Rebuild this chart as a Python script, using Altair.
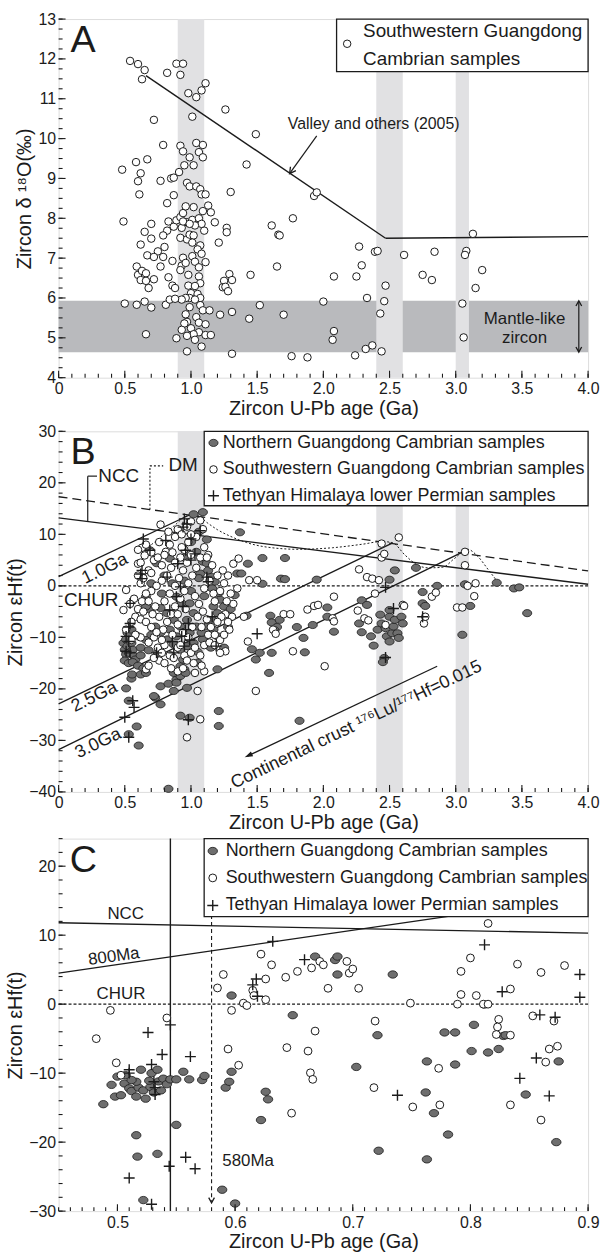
import altair as alt
import pandas as pd

FONT = "Liberation Sans, Arial, Helvetica, DejaVu Sans, sans-serif"
INK = "#1b1b1b"
GREY_FILL = "#6e6e6e"
BAND_LIGHT = "#e1e1e3"
BAND_DARK = "#b9babd"

W = 533
HA, HB, HC = 361, 363, 375

# ---------------- Panel A : zircon d18O vs U-Pb age (Southwestern Guangdong) ----------------
A_sw = [
    (0.54, 11.95), (0.60, 11.87), (0.65, 11.72), (0.63, 11.49), (0.89, 11.88), (0.94, 11.88),
    (0.92, 11.60), (0.82, 11.65), (0.98, 11.14), (1.04, 11.04), (1.08, 11.21), (1.11, 11.39),
    (1.01, 10.55), (0.72, 10.47), (1.26, 10.73), (1.49, 10.11), (1.42, 9.35), (0.79, 9.84),
    (0.48, 9.22), (0.585, 9.41), (0.62, 9.13), (0.60, 8.93), (0.67, 9.48), (0.61, 8.60),
    (0.77, 8.94), (0.85, 9.00), (0.87, 9.02), (0.92, 9.82), (0.94, 9.68), (0.95, 9.33),
    (0.91, 9.16), (1.04, 9.89), (1.06, 9.66), (0.99, 9.53), (1.09, 9.84), (1.09, 9.53),
    (1.02, 9.33), (0.97, 8.89), (0.99, 8.80), (1.04, 8.80), (1.07, 8.73), (1.08, 8.60),
    (1.11, 8.60), (1.30, 8.66), (0.82, 8.38), (0.87, 8.58), (1.93, 8.56), (1.95, 8.65),
    (1.77, 8.00), (0.49, 7.92), (0.70, 7.86), (0.83, 7.92), (0.82, 7.69), (0.87, 7.79),
    (0.79, 7.57), (0.89, 7.95), (0.92, 8.03), (0.94, 8.13), (0.96, 8.30), (1.02, 8.28),
    (0.93, 7.76), (0.97, 7.90), (0.94, 7.92), (1.01, 7.96), (1.06, 8.00), (1.09, 8.18),
    (1.13, 8.32), (1.15, 8.15), (1.18, 7.90), (1.10, 7.69), (1.08, 7.86), (1.03, 7.82),
    (0.99, 7.86), (0.92, 7.51), (0.97, 7.47), (0.99, 7.59), (1.02, 7.57), (1.07, 7.32),
    (1.05, 7.22), (1.01, 7.39), (1.27, 7.76), (1.27, 7.65), (1.61, 7.82), (1.66, 7.59),
    (1.67, 7.57), (1.21, 7.39), (0.65, 7.66), (0.62, 7.34), (0.70, 7.49), (0.75, 7.17),
    (0.80, 7.28), (0.79, 7.03), (0.67, 7.07), (0.72, 7.03), (0.77, 6.79), (0.86, 6.93),
    (0.94, 7.01), (0.93, 6.81), (0.96, 6.88), (0.92, 6.70), (1.01, 7.05), (1.03, 6.91),
    (1.06, 6.77), (1.08, 7.11), (1.11, 6.90), (1.06, 6.54), (1.07, 6.37), (0.59, 6.79),
    (0.60, 6.58), (0.63, 6.68), (0.66, 6.62), (0.62, 6.45), (0.66, 6.43), (0.68, 6.25),
    (0.72, 6.47), (0.83, 6.52), (0.86, 6.31), (0.88, 6.25), (0.98, 6.58), (0.98, 6.31),
    (1.03, 6.30), (1.00, 6.12), (1.05, 6.10), (0.99, 6.00), (1.07, 6.00), (0.96, 6.00),
    (0.93, 5.96), (1.25, 6.43), (1.24, 6.27), (1.26, 6.28), (1.28, 6.17), (1.29, 6.60),
    (1.31, 6.45), (1.45, 6.58), (1.65, 6.79), (2.08, 6.54), (2.25, 6.54), (2.27, 7.29),
    (2.29, 6.82), (2.39, 7.16), (2.41, 7.18), (2.61, 7.08), (2.47, 6.31), (2.75, 6.58),
    (2.82, 6.45), (2.84, 7.16), (3.13, 7.61), (3.08, 7.18), (3.07, 7.08), (3.20, 6.70),
    (3.15, 6.25), (0.50, 5.86), (0.59, 5.83), (0.65, 5.91), (0.70, 5.76), (0.81, 5.83),
    (0.84, 5.96), (0.88, 5.98), (0.96, 5.59), (0.99, 5.77), (1.03, 5.96), (1.07, 5.82),
    (1.09, 5.69), (1.14, 5.69), (0.97, 5.40), (0.95, 5.36), (1.00, 5.24), (0.93, 5.20),
    (1.04, 5.52), (1.06, 5.38), (1.11, 5.34), (1.06, 5.14), (1.02, 5.09), (0.97, 5.05),
    (0.89, 4.99), (1.03, 4.95), (1.08, 4.78), (1.11, 5.07), (1.15, 5.07), (0.66, 5.09),
    (0.97, 4.66), (1.22, 5.58), (1.31, 5.65), (1.31, 4.60), (1.44, 5.48), (1.52, 5.82),
    (1.70, 5.58), (1.76, 4.54), (1.88, 4.51), (2.00, 5.91), (2.08, 5.17), (2.07, 4.95),
    (2.33, 6.00), (2.24, 4.56), (2.32, 4.72), (2.37, 4.81), (2.43, 5.61), (2.44, 4.66),
    (2.46, 5.92), (3.05, 5.86), (3.06, 5.01),
]
A_valley = [(0.66, 11.58, 2.47, 7.50), (2.47, 7.50, 4.00, 7.54)]
A_vbands_under = [(0.90, 1.10)]
A_vbands_over = [(2.40, 2.60), (3.00, 3.10)]
A_mantle = [(4.64, 5.93)]
A_arrow = [(1.95, 10.07, 1.745, 9.12)]
A_arrowhead = [(1.745, 9.12, 36)]
A_mantle_arrow = [(3.93, 5.90, 3.93, 4.67)]
A_mantle_heads = [(3.93, 5.93, 180), (3.93, 4.64, 0)]
A_texts = [(2.38, 10.36, "Valley and others (2005)"), (3.52, 5.46, "Mantle-like"), (3.52, 5.00, "zircon")]
A_label = [(0.09, 12.45, "A")]
A_legend_box = [(2.10, 4.00, 11.68, 13.0)]
A_legend_sym = [(2.18, 12.38)]
A_legend_txt = [(2.30, 12.71, "Southwestern Guangdong"), (2.30, 12.00, "Cambrian samples")]

# ---------------- Panel B : zircon eHf(t) vs U-Pb age ----------------
B_ng = [
    (0.49, -11.1), (0.50, -12.4), (0.51, -10.4), (0.52, -11.7), (0.51, -13.3), (0.50, -14.5),
    (0.53, -13.0), (0.55, -11.1), (0.56, -12.4), (0.57, -13.6), (0.52, -9.1), (0.58, -14.3),
    (0.60, -9.8), (0.55, -8.5), (0.53, -15.0), (0.56, -14.8), (0.62, -12.0), (0.60, -15.5),
    (0.64, -16.0), (0.62, -13.5), (0.66, -10.5), (0.70, -9.5), (0.68, -12.5),
    (0.51, -19.9), (0.53, -22.3), (0.55, -18.0), (0.59, -27.3), (0.605, -31.0), (0.53, -28.8),
    (0.555, -17.2), (0.62, -17.2), (0.66, -16.9), (0.73, -21.7), (0.77, -23.0), (0.77, -19.5),
    (0.83, -19.0), (0.87, -20.4), (0.89, -18.2), (0.92, -17.5), (0.95, -16.2), (0.97, -19.8),
    (0.92, -25.2), (0.99, -25.6), (0.83, -39.4), (0.72, -21.4), (0.92, -15.6), (0.96, -16.9),
    (0.89, -18.8), (0.87, -16.9), (1.05, -14.9), (1.20, -16.2), (1.21, -24.3), (1.21, -27.2),
    (1.02, 13.9), (1.09, 14.3), (1.37, 10.4), (0.69, 6.9), (0.74, 4.4), (0.84, 5.3),
    (1.04, 6.6), (1.09, 4.7), (1.12, 4.4), (1.07, 2.4), (1.06, 1.5), (1.15, 1.8), (1.18, 0.8),
    (1.16, -0.5), (1.21, -1.4), (1.22, -2.7), (1.25, -4.0), (1.17, -4.0), (1.20, -5.3),
    (1.16, -6.6), (1.12, -7.9), (1.17, -8.5), (1.20, -9.8), (1.09, -10.4), (1.02, -11.1),
    (0.97, -11.7), (0.92, -12.4), (0.87, -11.4), (0.82, -10.4), (0.77, -9.1), (0.73, -7.9),
    (0.69, -4.6), (0.66, -4.0), (0.66, -2.1), (0.89, -2.1), (0.93, -3.4), (0.99, -3.4),
    (1.02, -5.3), (0.97, -6.6), (0.92, -7.9), (0.87, -6.6), (0.82, -5.3), (0.77, -4.3),
    (1.04, -7.9), (1.08, -9.1), (0.99, -9.1), (0.89, -9.8), (0.84, -8.5), (0.94, -14.3),
    (0.80, 2.0), (0.86, 0.5), (0.95, 1.0), (1.00, -1.0), (1.10, -2.0), (1.13, 3.0),
    (0.78, -1.5), (0.70, 0.5), (1.25, -12.0), (1.28, -8.0), (0.95, 5.5), (1.00, 8.5),
    (1.06, 10.5), (1.12, 9.0), (0.85, -13.5), (0.75, -13.0), (1.05, -12.8), (1.15, -12.0),
    (1.43, 4.3), (1.35, 2.4), (1.38, 2.4), (1.54, 5.4), (1.54, 0.4), (1.71, 5.4), (1.68, 1.4),
    (1.71, 1.3), (1.46, -12.3), (1.49, -14.3), (1.52, -13.0), (1.59, -16.9), (1.61, -13.0),
    (1.60, -5.8), (1.61, -7.1), (1.65, -8.0), (1.67, -6.6), (1.63, -8.6), (1.80, -8.0),
    (1.85, -10.1), (1.86, -12.9), (1.82, -26.2), (1.92, -7.6), (1.95, 1.2), (2.03, -4.2),
    (2.03, -6.0), (2.08, -8.9), (1.42, -5.8), (1.33, -1.8), (1.30, -4.5),
    (2.29, -2.8), (2.33, -3.7), (2.27, -7.3), (2.29, -9.0), (2.36, -9.8), (2.38, -11.6),
    (2.41, -8.5), (2.43, -5.6), (2.44, -7.3), (2.47, -8.2), (2.48, -9.8), (2.50, -10.8),
    (2.52, -9.2), (2.50, -4.7), (2.50, -6.0), (2.53, -7.9), (2.54, -6.6), (2.56, -9.2),
    (2.57, -10.1), (2.46, -14.0), (2.45, -14.8), (2.50, 1.2), (2.54, 3.0), (2.59, -6.0),
    (2.60, -7.3), (2.70, 3.5), (2.75, -1.2), (2.75, -3.4), (2.77, -3.9), (2.86, 0.0),
    (3.05, -9.5), (3.07, 0.3), (3.11, -3.9), (3.31, 0.6), (3.44, -0.5), (3.48, -0.3), (3.54, -5.3),
]
B_sw = [
    (0.77, 11.9), (0.81, 6.6), (0.63, 7.4), (0.65, 5.9), (0.60, 4.3), (0.62, 4.5), (0.51, -0.8),
    (0.49, -4.7), (0.51, -8.5), (0.66, -16.2), (0.90, -16.6), (0.97, -29.4), (1.05, -20.4),
    (1.07, -25.9), (1.03, -16.9), (1.10, -16.6), (1.26, -12.7), (1.29, -8.5), (1.31, -6.0),
    (1.32, 4.3), (1.36, 5.3), (0.60, 2.0), (0.62, 0.5), (0.64, 1.5), (0.68, 3.0), (0.70, 2.5),
    (0.72, 5.0), (0.75, 5.5), (0.78, 4.0), (0.80, 6.0), (0.84, 8.0), (0.88, 9.5), (0.90, 11.0),
    (0.93, 10.0), (0.97, 11.5), (1.00, 12.5), (1.07, 12.7), (1.04, 9.5), (0.98, 8.5), (0.95, 7.0),
    (0.92, 5.5), (0.88, 4.5), (0.85, 3.5), (0.82, 2.0), (0.78, 1.0), (0.74, 0.0), (0.70, -1.0),
    (0.66, -1.5), (0.63, -3.0), (0.60, -4.5), (0.58, -6.0), (0.55, -7.0), (0.62, -6.5),
    (0.66, -7.0), (0.70, -8.0), (0.72, -10.0), (0.68, -11.0), (0.62, -10.0), (0.58, -9.5),
    (0.75, -12.0), (0.78, -13.0), (0.80, -11.5), (0.76, -14.5), (0.80, -15.0), (0.84, -13.5),
    (0.87, -14.0), (0.90, -12.0), (0.92, -11.5), (0.95, -13.5), (0.97, -14.5), (1.00, -13.0),
    (1.03, -12.0), (1.07, -13.5), (1.10, -11.5), (1.14, -11.0), (1.18, -11.5), (1.22, -10.5),
    (1.25, -9.5), (1.28, -7.0), (1.26, -5.5), (1.23, -6.0), (1.20, -7.0), (1.18, -3.0),
    (1.22, -1.0), (1.25, 0.5), (1.28, 2.0), (1.30, -1.5), (1.32, -3.5), (1.27, -3.0),
    (1.24, 3.0), (1.20, 2.0), (1.16, 4.0), (1.13, 6.0), (1.10, 7.5), (1.07, 5.5), (1.04, 3.5),
    (1.01, 2.0), (0.98, 0.5), (0.95, -1.0), (0.92, -2.5), (0.88, -4.0), (0.85, -5.5),
    (0.82, -7.0), (0.79, -8.5), (0.76, -6.0), (0.73, -4.0), (0.80, -3.0), (0.84, -1.5),
    (0.88, 0.0), (0.91, 1.5), (0.94, 3.0), (0.97, 4.5), (1.00, 6.0), (1.03, -2.0), (1.06, -3.5),
    (1.09, -5.0), (1.12, -6.5), (1.15, -8.0), (1.05, -6.0), (1.01, -8.0), (0.98, -10.0),
    (0.94, -9.0), (0.90, -7.5), (0.86, -9.5), (1.08, -8.0), (1.13, -9.5), (1.10, -0.5),
    (1.14, 1.0), (1.17, -1.5), (1.02, -15.0), (1.08, -15.5), (0.94, -16.0), (0.85, -16.0),
    (0.72, -14.0), (0.68, -15.5), (0.55, -10.5), (0.57, -2.5), (0.54, -3.5), (0.60, 7.0),
    (0.66, 8.0), (0.70, 6.5), (0.76, 8.5), (0.83, 10.5), (1.00, 10.0), (1.09, 11.0),
    (1.12, 5.5), (0.96, -4.5), (0.90, -5.5), (0.78, -10.5), (0.74, -9.0), (0.71, -5.5),
    (0.68, -3.0), (0.64, -5.0), (0.86, 6.5), (0.93, 7.5), (1.18, -9.5), (1.22, -13.0),
    (1.44, 1.1), (1.50, 1.1), (1.43, -10.8), (1.49, -20.4), (1.62, -8.5), (1.64, -9.3),
    (1.70, -5.5), (1.75, -5.5), (1.77, -12.7), (1.88, -4.6), (1.93, -3.9), (1.96, -3.7),
    (2.01, -15.6), (2.08, -2.1), (2.07, -6.3), (2.08, -6.9), (2.27, 3.2), (2.33, 1.7),
    (2.37, 1.4), (2.42, 1.1), (2.26, -4.8), (2.31, -6.3), (2.34, -6.7), (2.39, -1.5),
    (2.44, 8.2), (2.44, 5.5), (2.46, 6.2), (2.57, 9.4), (2.47, -7.6), (2.60, -3.7),
    (2.61, -3.9), (2.76, -7.3), (2.77, -6.0), (2.82, -2.1), (2.85, -1.3), (3.01, -4.2),
    (3.05, -4.2), (3.07, 6.6), (3.07, 4.0), (3.09, 0.0), (3.15, 0.5), (3.14, -2.0),
    (1.35, -0.5), (1.40, -6.0),
]
B_th = [
    (0.64, 9.1), (0.69, 6.9), (0.81, 8.8), (0.63, 3.0), (0.63, 1.4), (0.62, 2.3), (0.54, -3.4),
    (0.54, -7.3), (0.53, -8.0), (0.51, -9.8), (0.53, -10.8), (0.51, -12.7), (0.54, -13.0),
    (0.56, -22.3), (0.57, -23.6), (0.50, -25.5), (0.53, -29.4), (0.74, -13.0), (0.82, 1.7),
    (0.84, -4.7), (0.86, -10.8), (0.87, -13.0), (0.95, 13.0), (0.94, 11.4), (0.96, 6.9),
    (1.00, 9.1), (0.97, 12.0), (0.90, 4.3), (0.92, -0.2), (0.89, -2.1), (0.94, -4.0),
    (0.98, -7.3), (0.96, -8.5), (0.99, -10.5), (0.93, -9.8), (0.95, -11.7), (1.00, 5.0),
    (1.03, 6.2), (1.07, 10.7), (1.12, 1.7), (1.13, 0.8), (1.16, -6.0), (1.19, -11.7),
    (0.98, -26.0), (1.50, -9.3), (2.47, -0.3), (2.47, -13.9), (2.53, -4.4), (2.75, -6.0),
]
B_ncc = [(0.0, 13.2, 4.0, 0.3)]
B_dm = [(0.0, 17.3, 4.0, 2.9)]
B_crust = [(0.0, 1.8, 1.0, 13.9), (0.0, -22.9, 2.52, 8.3), (0.0, -31.8, 3.07, 6.8)]
B_envelope = [
    (0.63, 6.6), (0.75, 9.0), (0.87, 11.6), (0.98, 13.6), (1.05, 13.6), (1.12, 12.3),
    (1.20, 10.9), (1.30, 9.6), (1.42, 8.4), (1.58, 7.5), (1.81, 7.1), (2.07, 7.4),
    (2.30, 8.1), (2.44, 8.6), (2.52, 8.4), (2.62, 5.9), (2.70, 4.2), (2.79, 3.5),
    (2.90, 3.6), (2.99, 5.3), (3.09, 7.1), (3.16, 5.9), (3.25, 3.0), (3.31, 1.0),
]
B_vbands = [(0.90, 1.10), (2.40, 2.60), (3.00, 3.10)]
B_ncc_bracket = [(0.22, 12.5, 0.22, 21.3), (0.22, 21.3, 0.29, 21.3)]
B_dm_bracket = [(0.69, 14.8, 0.69, 23.3), (0.69, 23.3, 0.79, 23.3)]
B_crust_arrow = [(2.86, -15.6, 1.43, -33.0)]
B_crust_head = [(1.42, -33.1, 65)]
B_texts_big = [(0.30, 21.4, "NCC"), (0.83, 23.4, "DM"), (0.04, -2.7, "CHUR")]
B_texts_rot = [(0.35, 3.3, "1.0Ga"), (0.27, -21.6, "2.5Ga"), (0.30, -30.6, "3.0Ga")]
B_crust_txt = [(2.25, -27.0, "Continental crust \u00b9\u2077\u2076Lu/\u00b9\u2077\u2077Hf=0.015")]
B_label = [(0.09, 25.8, "B")]
B_legend_box = [(1.10, 4.00, 15.55, 30.0)]
B_leg_ng = [(1.17, 27.75)]
B_leg_sw = [(1.17, 22.6)]
B_leg_th = [(1.17, 17.5)]
B_legend_txt = [(1.24, 27.75, "Northern Guangdong Cambrian samples"),
                (1.24, 22.6, "Southwestern Guangdong Cambrian samples"),
                (1.24, 17.5, "Tethyan Himalaya lower Permian samples")]

# ---------------- Panel C : close-up 0.45-0.9 Ga ----------------
C_ng = [
    (0.488, -14.5), (0.495, -11.7), (0.498, -13.4), (0.500, -10.5), (0.503, -13.2), (0.506, -11.5),
    (0.507, -10.3), (0.510, -12.2), (0.512, -12.6), (0.516, -13.4), (0.518, -12.1), (0.520, -9.5),
    (0.522, -12.5), (0.524, -13.7), (0.528, -12.0), (0.529, -10.0), (0.531, -12.8), (0.534, -9.5),
    (0.535, -11.2), (0.537, -12.5), (0.539, -10.8), (0.542, -11.6), (0.545, -10.9), (0.550, -10.9),
    (0.556, -9.8), (0.561, -10.9), (0.572, -11.0), (0.574, -10.4), (0.516, -11.25), (0.512, -11.0),
    (0.527, -11.1), (0.516, -19.0), (0.517, -22.1), (0.534, -21.7), (0.550, -17.5), (0.522, -28.4),
    (0.589, -26.9), (0.600, -28.9), (0.592, -12.1), (0.595, -11.25), (0.597, -9.8), (0.597, 1.25),
    (0.622, -16.8), (0.626, -12.7), (0.628, -13.8), (0.649, -1.6), (0.668, 6.9), (0.685, 6.4),
    (0.687, 6.9), (0.687, 4.3), (0.703, -9.1), (0.721, -4.5), (0.722, -21.25), (0.734, 4.3),
    (0.763, -8.3), (0.762, -12.8), (0.763, -22.5), (0.769, -15.8), (0.778, -4.1), (0.781, -18.9),
    (0.787, -8.75), (0.787, -4.1), (0.801, -6.8), (0.803, -3.0), (0.812, -0.05), (0.815, -7.0),
    (0.824, -6.5), (0.828, -4.6), (0.830, -4.5), (0.847, -13.1), (0.873, -20.0), (0.875, -8.3),
]
C_sw = [
    (0.482, -5.0), (0.494, -0.9), (0.499, -8.5), (0.503, -10.3), (0.542, -2.0), (0.585, 2.35),
    (0.590, 4.3), (0.594, -6.5), (0.597, -0.9), (0.603, -8.85), (0.607, 0.15), (0.610, -0.2),
    (0.615, 2.0), (0.616, 1.25), (0.622, 7.25), (0.626, 3.65), (0.626, 0.65), (0.631, 5.7),
    (0.644, -6.3), (0.643, 3.9), (0.648, -15.8), (0.653, 4.75), (0.662, -6.8), (0.664, -9.95),
    (0.665, 5.25), (0.666, -10.9), (0.668, -3.9), (0.672, 6.2), (0.675, 5.7), (0.679, 2.3),
    (0.695, 6.2), (0.697, 4.5), (0.700, 5.1), (0.705, 2.3), (0.719, -2.45), (0.718, -12.1),
    (0.749, 0.15), (0.751, -14.9), (0.773, -9.3), (0.774, -14.6), (0.789, 0.0), (0.792, 1.4),
    (0.792, 4.75), (0.800, 6.7), (0.805, 1.25), (0.811, 0.0), (0.815, 0.0), (0.815, 11.7),
    (0.824, -2.2), (0.823, -3.3), (0.822, -4.4), (0.834, -4.5), (0.834, 2.2), (0.834, -14.6),
    (0.840, 5.8), (0.853, -1.7), (0.860, 4.6), (0.860, -16.8), (0.864, -8.4), (0.867, -6.5),
    (0.871, -2.45), (0.874, -6.1), (0.880, 5.6),
]
C_th = [
    (0.510, -9.5), (0.510, -10.0), (0.526, -4.1), (0.529, -8.75), (0.531, -11.25), (0.532, -12.1),
    (0.532, -13.1), (0.538, -7.3), (0.545, -3.0), (0.562, -7.6), (0.510, -25.2), (0.529, -29.0),
    (0.544, -23.5), (0.558, -22.2), (0.566, -23.85), (0.615, 2.8), (0.618, 3.65), (0.619, 1.15),
    (0.632, 9.1), (0.659, 6.45), (0.738, -13.2), (0.812, 8.6), (0.827, 1.8), (0.842, -10.75),
    (0.856, -7.8), (0.859, -1.55), (0.867, -13.3), (0.872, -1.9), (0.893, 4.3), (0.893, 1.0),
]
C_ncc = [(0.45, 11.8, 0.90, 10.3)]
C_800 = [(0.45, 4.5, 0.80, 13.2)]
C_545 = [(0.545, 24.0, 0.545, -30.0)]
C_580 = [(0.58, 24.0, 0.58, -28.6)]
C_580_head = [(0.58, -28.8, 0)]
C_texts = [(0.507, 13.1, "NCC", 0), (0.503, 1.5, "CHUR", 0), (0.611, -22.7, "580Ma", 0), (0.497, 6.9, "800Ma", 352)]
C_label = [(0.4595, 20.7, "C")]
C_legend_box = [(0.5737, 0.90, 12.7, 24.0)]
C_leg_ng = [(0.581, 22.2)]
C_leg_sw = [(0.581, 18.3)]
C_leg_th = [(0.581, 14.3)]
C_legend_txt = [(0.592, 22.2, "Northern Guangdong Cambrian samples"),
                (0.592, 18.3, "Southwestern Guangdong Cambrian samples"),
                (0.592, 14.3, "Tethyan Himalaya lower Permian samples")]

# axis tick values
A_xmaj = [0, 0.5, 1.0, 1.5, 2.0, 2.5, 3.0, 3.5, 4.0]
A_xmin = [i / 10 for i in range(0, 41)]
A_ymaj = [4, 5, 6, 7, 8, 9, 10, 11, 12, 13]
A_ymin = [4 + i * 0.25 for i in range(0, 37)]
B_ymaj = [-40, -30, -20, -10, 0, 10, 20, 30]
B_ymin = list(range(-40, 31, 2))
C_xmaj = [0.5, 0.6, 0.7, 0.8, 0.9]
C_xmin = [round(0.45 + i * 0.01, 2) for i in range(0, 46)]
C_ymaj = [-30, -20, -10, 0, 10, 20]
C_ymin = list(range(-30, 25, 2))

ELLIPSE = "M-1.15,0A1.15,0.9 0 1,1 1.15,0A1.15,0.9 0 1,1 -1.15,0Z"
PLUS = "M-1,0L1,0M0,-1L0,1"
VHEAD = "M-0.55,-1L0,0L0.55,-1"
TRI = "M0,0L-0.45,-1.4L0.45,-1.4Z"


def frame(rows, cols):
    return pd.DataFrame(list(rows), columns=cols)


def build_panel(H, xdom, ydom, xvals, xfmt, yvals, ytitle, xtitle_pad):
    xs = alt.Scale(domain=xdom, nice=False, zero=False)
    ys = alt.Scale(domain=ydom, nice=False, zero=False)
    common = dict(ticks=False, domain=False, grid=False, labelFontSize=16, titleFontSize=20,
                  labelPadding=3, labelFlush=False, labelOverlap=False, labelColor=INK,
                  titleColor=INK, labelFont=FONT, titleFont=FONT, titleFontWeight="normal")
    xax = alt.Axis(values=xvals, labelExpr=xfmt, title="Zircon U-Pb age (Ga)",
                   titlePadding=xtitle_pad, **common)
    yax = alt.Axis(values=yvals, title=ytitle, titlePadding=3, **common)

    def X(f="x"):
        return alt.X(f"{f}:Q", scale=xs, axis=xax)

    def Y(f="y"):
        return alt.Y(f"{f}:Q", scale=ys, axis=yax)

    P = {}
    P["vband"] = lambda rows, color: alt.Chart(frame(rows, ["x", "x2"])).mark_rect(color=color).encode(
        x=X(), x2="x2:Q", y=alt.value(0), y2=alt.value(H))
    P["hband"] = lambda rows, color: alt.Chart(frame(rows, ["y", "y2"])).mark_rect(color=color).encode(
        y=Y(), y2="y2:Q", x=alt.value(0), x2=alt.value(W))

    def segs(rows, width=1.3, dash=None):
        kw = dict(color=INK, strokeWidth=width)
        if dash:
            kw["strokeDash"] = dash
        return alt.Chart(frame(rows, ["x", "y", "x2", "y2"])).mark_rule(**kw).encode(
            x=X(), y=Y(), x2="x2:Q", y2="y2:Q")
    P["segs"] = segs

    def polyline(rows, width, dash):
        d = frame(rows, ["x", "y"])
        d["o"] = range(len(d))
        return alt.Chart(d).mark_line(color=INK, strokeWidth=width, strokeDash=dash,
                                      interpolate="monotone").encode(x=X(), y=Y(), order="o:Q")
    P["polyline"] = polyline

    def hline0(dash):
        return alt.Chart(frame([(0.0,)], ["y"])).mark_rule(color=INK, strokeWidth=1.1, strokeDash=dash).encode(
            y=Y(), x=alt.value(0), x2=alt.value(W))
    P["hline0"] = hline0

    def open_pts(rows, size=58):
        return alt.Chart(frame(rows, ["x", "y"])).mark_point(
            shape="circle", filled=True, fill="white", stroke=INK, strokeWidth=1.0, size=size, opacity=1
        ).encode(x=X(), y=Y())
    P["open"] = open_pts

    def filled_pts(rows, size=64):
        return alt.Chart(frame(rows, ["x", "y"])).mark_point(
            shape=ELLIPSE, filled=True, fill=GREY_FILL, stroke=INK, strokeWidth=0.8, size=size, opacity=1
        ).encode(x=X(), y=Y())
    P["filled"] = filled_pts

    def plus_pts(rows, size=121):
        return alt.Chart(frame(rows, ["x", "y"])).mark_point(
            shape=PLUS, filled=False, color=INK, strokeWidth=1.4, size=size, opacity=1
        ).encode(x=X(), y=Y())
    P["plus"] = plus_pts

    def heads(rows, shape, size, filled):
        kw = dict(shape=shape, size=size, opacity=1, strokeWidth=1.3)
        if filled:
            kw.update(filled=True, fill=INK, stroke=INK)
        else:
            kw.update(filled=False, color=INK)
        return alt.Chart(frame(rows, ["x", "y", "a"])).mark_point(**kw).encode(
            x=X(), y=Y(), angle=alt.Angle("a:Q", scale=None))
    P["heads"] = heads

    def texts(rows, size, align="left", angle=0):
        kw = dict(font=FONT, fontSize=size, color=INK, align=align, baseline="middle")
        if angle:
            kw["angle"] = angle
        return alt.Chart(frame(rows, ["x", "y", "t"])).mark_text(**kw).encode(x=X(), y=Y(), text="t:N")
    P["texts"] = texts

    def texts_angle(rows, size):
        return alt.Chart(frame(rows, ["x", "y", "t", "a"])).mark_text(
            font=FONT, fontSize=size, color=INK, align="center", baseline="middle"
        ).encode(x=X(), y=Y(), text="t:N", angle=alt.Angle("a:Q", scale=None))
    P["texts_angle"] = texts_angle

    def box(rows):
        return alt.Chart(frame(rows, ["x", "x2", "y", "y2"])).mark_rect(
            fill="white", stroke=INK, strokeWidth=1.3).encode(x=X(), x2="x2:Q", y=Y(), y2="y2:Q")
    P["box"] = box

    def xticks(vals, length):
        return alt.Chart(frame([(v,) for v in vals], ["x"])).mark_rule(color=INK, strokeWidth=1.1).encode(
            x=X(), y=alt.value(H), y2=alt.value(H - length))

    def yticks(vals, length):
        return alt.Chart(frame([(v,) for v in vals], ["y"])).mark_rule(color=INK, strokeWidth=1.1).encode(
            y=Y(), x=alt.value(0), x2=alt.value(length))
    P["xticks"] = xticks
    P["yticks"] = yticks
    return P


XFMT_AB = "datum.value == 0 ? '0' : format(datum.value, '.1f')"
XFMT_C = "format(datum.value, '.1f')"

# ---- Panel A ----
P = build_panel(HA, [0, 4], [4, 13], A_xmaj, XFMT_AB, A_ymaj, "Zircon \u03b4 \u00b9\u2078O(\u2030)", 2)
A_layers = [
    P["vband"](A_vbands_under, BAND_LIGHT),
    P["hband"](A_mantle, BAND_DARK),
    P["vband"](A_vbands_over, BAND_LIGHT),
    P["segs"](A_valley, 1.4),
    P["segs"](A_arrow, 1.2),
    P["heads"](A_arrowhead, VHEAD, 150, False),
    P["segs"](A_mantle_arrow, 1.2),
    P["heads"](A_mantle_heads, VHEAD, 110, False),
    P["open"](A_sw, 57),
    P["texts"](A_texts[:1], 16, "center"),
    P["texts"](A_texts[1:], 17, "center"),
    P["texts"](A_label, 38, "left"),
    P["box"](A_legend_box),
    P["open"](A_legend_sym, 57),
    P["texts"](A_legend_txt, 19, "left"),
    P["xticks"](A_xmin, 4), P["xticks"](A_xmaj, 7),
    P["yticks"](A_ymin, 4), P["yticks"](A_ymaj, 7),
]
chartA = alt.layer(*A_layers).properties(width=W, height=HA)

# ---- Panel B ----
P = build_panel(HB, [0, 4], [-40, 30], A_xmaj, XFMT_AB, B_ymaj, "Zircon \u03b5Hf(t)", 2)
B_layers = [
    P["vband"](B_vbands, BAND_LIGHT),
    P["hline0"]([3, 2]),
    P["segs"](B_ncc, 1.4),
    P["segs"](B_dm, 1.3, [9, 5]),
    P["segs"](B_crust, 1.3),
    P["polyline"](B_envelope, 1.0, [2, 2]),
    P["segs"](B_ncc_bracket, 1.2),
    P["segs"](B_dm_bracket, 1.1, [2, 2]),
    P["segs"](B_crust_arrow, 1.3),
    P["heads"](B_crust_head, TRI, 60, True),
    P["filled"](B_ng),
    P["open"](B_sw),
    P["plus"](B_th),
    P["texts"](B_texts_big, 19, "left"),
    P["texts"](B_texts_rot, 18, "center", 334),
    P["texts"](B_crust_txt, 18, "center", 334.5),
    P["texts"](B_label, 38, "left"),
    P["box"](B_legend_box),
    P["filled"](B_leg_ng),
    P["open"](B_leg_sw),
    P["plus"](B_leg_th),
    P["texts"](B_legend_txt, 18, "left"),
    P["xticks"](A_xmin, 4), P["xticks"](A_xmaj, 7),
    P["yticks"](B_ymin, 4), P["yticks"](B_ymaj, 7),
]
chartB = alt.layer(*B_layers).properties(width=W, height=HB)

# ---- Panel C ----
P = build_panel(HC, [0.45, 0.9], [-30, 24], C_xmaj, XFMT_C, C_ymaj, "Zircon \u03b5Hf(t)", 2)
C_layers = [
    P["hline0"]([3, 2]),
    P["segs"](C_ncc, 1.4),
    P["segs"](C_800, 1.4),
    P["segs"](C_545, 1.4),
    P["segs"](C_580, 1.1, [4, 3]),
    P["heads"](C_580_head, VHEAD, 110, False),
    P["filled"](C_ng, 68),
    P["open"](C_sw, 62),
    P["plus"](C_th),
    P["texts_angle"](C_texts, 17),
    P["texts"](C_label, 38, "left"),
    P["box"](C_legend_box),
    P["filled"](C_leg_ng, 68),
    P["open"](C_leg_sw, 62),
    P["plus"](C_leg_th),
    P["texts"](C_legend_txt, 18, "left"),
    P["xticks"](C_xmin, 4), P["xticks"](C_xmaj, 7),
    P["yticks"](C_ymin, 4), P["yticks"](C_ymaj, 7),
]
chartC = alt.layer(*C_layers).properties(width=W, height=HC)

chart = (
    alt.vconcat(chartA, chartB, chartC, spacing=3)
    .properties(padding={"left": 5, "top": 6, "right": 0, "bottom": 0}, background="white")
    .configure_view(stroke=INK, strokeWidth=1.3)
    .configure(font=FONT)
)
chart.save("out.html", embed_options={"renderer": "svg", "actions": False})
